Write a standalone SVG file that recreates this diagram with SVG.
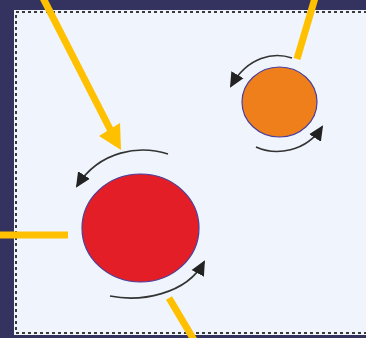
<svg xmlns="http://www.w3.org/2000/svg" width="366" height="338" viewBox="0 0 366 338">
<defs>
<style>
.pointer{stroke:#ffc000;stroke-width:7;fill:none}
.rot{stroke:#333;stroke-width:1.6;fill:none;marker-end:url(#ah)}
.ball{stroke:#4b3f9c;stroke-width:1.2}
</style>
<marker id="ah" markerUnits="userSpaceOnUse" markerWidth="16" markerHeight="16" viewBox="0 0 16 16" refX="13" refY="8" orient="auto">
<path d="M0 1 L15 8 L0 15 Z" fill="#222"/>
</marker>
</defs>
<rect x="0" y="0" width="366" height="338" fill="#34335f"/>
<rect x="14" y="10" width="362" height="325" fill="#f0f4fc"/>
<rect id="panel" x="16" y="12" width="360" height="321" fill="none" stroke="#3a3a3a" stroke-width="2" stroke-dasharray="3 3"/>
<g id="red-ball"><ellipse class="ball" cx="140.5" cy="228" rx="58.5" ry="54" fill="#e31e26"/></g>
<g id="orange-ball"><ellipse class="ball" cx="279.5" cy="102" rx="37.5" ry="35" fill="#ef7f1a"/></g>
<g id="connectors">
<path class="rot" d="M292 58 C274 52 248 56 231 86"/>
<path class="rot" d="M256 147 C276 156 306 152 322 127"/>
<path class="rot" d="M168 154 C140 145 100 150 77 186"/>
<path class="rot" d="M110 296 C140 302 186 295 204 262"/>
<line class="pointer" x1="43" y1="-2" x2="111" y2="131"/>
<polygon points="121,150 99,136 120,123" fill="#ffc000"/>
<line class="pointer" x1="315" y1="-2" x2="297" y2="59" stroke-width="6"/>
<line class="pointer" x1="0" y1="235" x2="68" y2="235"/>
<line class="pointer" x1="169" y1="298" x2="194" y2="340"/>
</g>
</svg>
